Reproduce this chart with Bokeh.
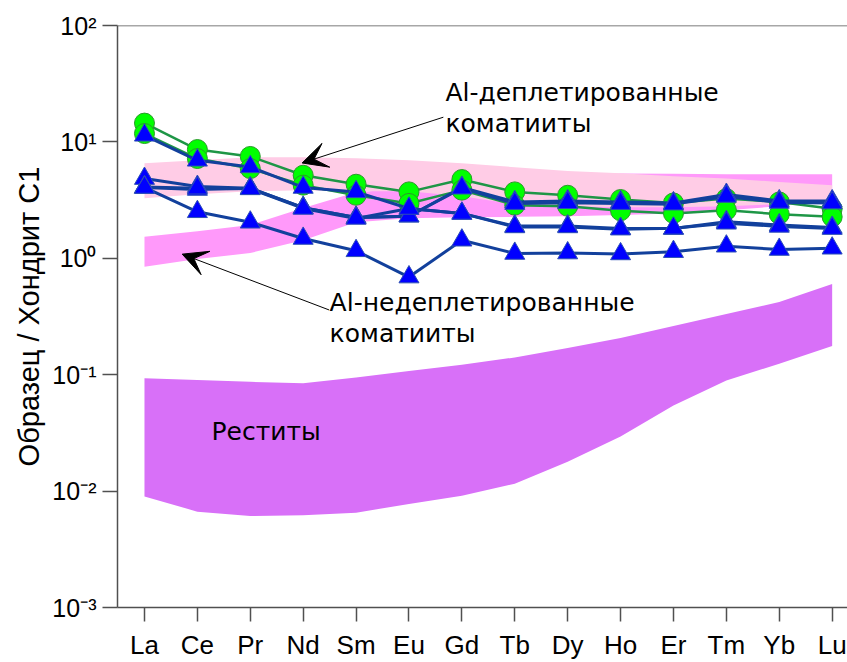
from bokeh.plotting import figure
from bokeh.models import (Range1d, FixedTicker, CustomJSTickFormatter, Label,
                          Arrow, VeeHead, Span)
from bokeh.embed import file_html
from bokeh.resources import INLINE

# ---------------- data ----------------
elements = ["La", "Ce", "Pr", "Nd", "Sm", "Eu", "Gd", "Tb", "Dy", "Ho", "Er", "Tm", "Yb", "Lu"]
xi = list(range(len(elements)))

# Al-depleted komatiites (green circles)
green_1 = [14.5, 8.6, 7.5, 5.17, 4.33, 3.72, 4.75, 3.72, 3.48, 3.20, 2.99, 3.26, 3.05, 2.66]
green_2 = [11.8, 7.2, 5.9, 4.25, 3.48, 2.96, 3.85, 2.86, 2.80, 2.56, 2.43, 2.59, 2.39, 2.27]

# blue triangle series
blue_1 = [11.4, 6.95, 6.1, 4.06, 3.72, 2.68, 2.43, 1.89, 1.89, 1.80, 1.80, 2.06, 1.93, 1.84]
blue_2 = [4.84, 4.13, 4.0, 2.72, 2.24, 2.30, 4.06, 3.05, 3.11, 3.05, 2.99, 3.53, 3.11, 3.11]
blue_3 = [4.06, 3.90, 4.0, 2.72, 2.24, 2.30, 4.00, 2.95, 3.00, 2.95, 2.92, 3.40, 3.02, 2.98]
blue_4 = [4.10, 4.00, 3.95, 2.68, 2.20, 2.68, 2.43, 1.86, 1.86, 1.78, 1.81, 2.00, 1.88, 1.80]
blue_5 = [4.06, 2.51, 2.04, 1.48, 1.16, 0.69, 1.43, 1.10, 1.11, 1.09, 1.14, 1.27, 1.19, 1.22]

# fields
depleted_upper = [6.55, 6.95, 7.38, 7.38, 7.23, 6.95, 6.55, 6.06, 5.63, 5.38, 5.07, 4.84, 4.53, 4.25]
depleted_lower = [3.28, 3.55, 3.77, 3.85, 3.77, 3.77, 3.41, 2.92, 2.80, 2.75, 2.75, 2.80, 2.92, 3.18]
undepleted_upper = [1.53, 1.71, 1.93, 2.70, 3.70, 4.00, 4.41, 4.78, 5.07, 5.35, 5.33, 5.27, 5.27, 5.27]
undepleted_lower = [0.846, 0.985, 1.11, 1.43, 2.04, 2.21, 2.25, 2.27, 2.30, 2.35, 2.43, 2.59, 2.80, 3.18]
restite_upper = [0.0933, 0.0902, 0.0868, 0.0846, 0.0948, 0.1076, 0.122, 0.1406, 0.170, 0.207, 0.262, 0.332, 0.421, 0.601]
restite_lower = [0.0090, 0.00666, 0.0061, 0.00621, 0.00653, 0.00775, 0.00913, 0.01158, 0.01787, 0.0295, 0.0544, 0.0892, 0.1243, 0.1766]

# ---------------- figure ----------------
p = figure(width=847, height=662, title=None,
           x_range=Range1d(-0.51, 13.29), y_range=Range1d(1e-3, 1e2),
           y_axis_type="log", output_backend="svg", toolbar_location=None,
           min_border_left=117, min_border_right=0, min_border_top=25, min_border_bottom=54)
p.outline_line_color = None
p.grid.visible = False
p.background_fill_color = "white"
p.border_fill_color = "white"

axis_col = "#505050"
# x axis
p.xaxis.ticker = FixedTicker(ticks=xi)
p.xaxis.major_label_overrides = {i: e for i, e in zip(xi, elements)}
p.xaxis.minor_tick_line_color = None
p.xaxis.major_tick_in = 0
p.xaxis.major_tick_out = 14
p.xaxis.axis_line_color = axis_col
p.xaxis.major_tick_line_color = axis_col
p.xaxis.axis_line_width = 1.5
p.xaxis.major_tick_line_width = 1.5
p.xaxis.major_label_text_font = "Liberation Sans"
p.xaxis.major_label_text_font_size = "26px"
p.xaxis.major_label_text_color = "black"
p.xaxis.major_label_standoff = 8

# y axis
p.yaxis.minor_tick_line_color = None
p.yaxis.major_tick_in = 0
p.yaxis.major_tick_out = 15
p.yaxis.axis_line_color = axis_col
p.yaxis.major_tick_line_color = axis_col
p.yaxis.axis_line_width = 1.5
p.yaxis.major_tick_line_width = 1.5
p.yaxis.formatter = CustomJSTickFormatter(code="""
const e = Math.round(Math.log10(tick));
const sup = {'-':'\u207B','0':'\u2070','1':'\u00B9','2':'\u00B2','3':'\u00B3'};
return '10' + String(e).split('').map(c => sup[c]).join('');
""")
p.yaxis.major_label_text_font = "Liberation Sans"
p.yaxis.major_label_text_font_size = "25px"
p.yaxis.major_label_text_color = "black"
p.yaxis.major_label_standoff = 6
p.yaxis.axis_label = "Образец / Хондрит С1"
p.yaxis.axis_label_text_font = "Liberation Sans"
p.yaxis.axis_label_text_font_size = "29px"
p.yaxis.axis_label_text_font_style = "normal"
p.yaxis.axis_label_text_color = "black"
p.yaxis.axis_label_standoff = 4

# top border line
p.add_layout(Span(location=1e2, dimension="width", line_color=axis_col, line_width=1.5))

# ---------------- fields ----------------
p.varea(x=xi, y1=restite_lower, y2=restite_upper, fill_color="#D870F8")
p.varea(x=xi, y1=undepleted_lower, y2=undepleted_upper, fill_color="#FF99FA")
p.varea(x=xi, y1=depleted_lower, y2=depleted_upper, fill_color="#FFCCE6")

# ---------------- series ----------------
green_line = "#1E9646"
for ys in (green_1, green_2):
    p.line(xi, ys, line_color=green_line, line_width=2.5)
for ys in (green_1, green_2):
    p.scatter(xi, ys, marker="circle", size=20, fill_color="#00FF00",
              line_color="#2A9A2A", line_width=1)

blue_line = "#12409C"
blues = (blue_1, blue_2, blue_3, blue_4, blue_5)
for ys in blues:
    p.line(xi, ys, line_color=blue_line, line_width=3)
for ys in blues:
    p.scatter(xi, ys, marker="triangle", size=20, fill_color="#0000FF",
              line_color="#2D4FB5", line_width=1)

# ---------------- annotations ----------------
font_ann = "DejaVu Sans"
fs = "25px"
def add_label(x, y, text):
    p.add_layout(Label(x=x, y=y, text=text, text_font=font_ann, text_font_size=fs,
                       text_color="black", text_baseline="alphabetic"))

add_label(5.69, 26.6, "Al-деплетированные")
add_label(5.69, 14.3, "коматииты")
add_label(3.50, 0.42, "Al-недеплетированные")
add_label(3.50, 0.225, "коматииты")
add_label(1.267, 0.0323, "Реститы")

p.add_layout(Arrow(end=VeeHead(size=25, fill_color="black", line_color="black"),
                   x_start=5.65, y_start=16.3, x_end=2.98, y_end=6.59,
                   line_color="black", line_width=1))
p.add_layout(Arrow(end=VeeHead(size=25, fill_color="black", line_color="black"),
                   x_start=3.49, y_start=0.36, x_end=0.713, y_end=1.086,
                   line_color="black", line_width=1))

open("out.html", "w").write(file_html(p, INLINE))
